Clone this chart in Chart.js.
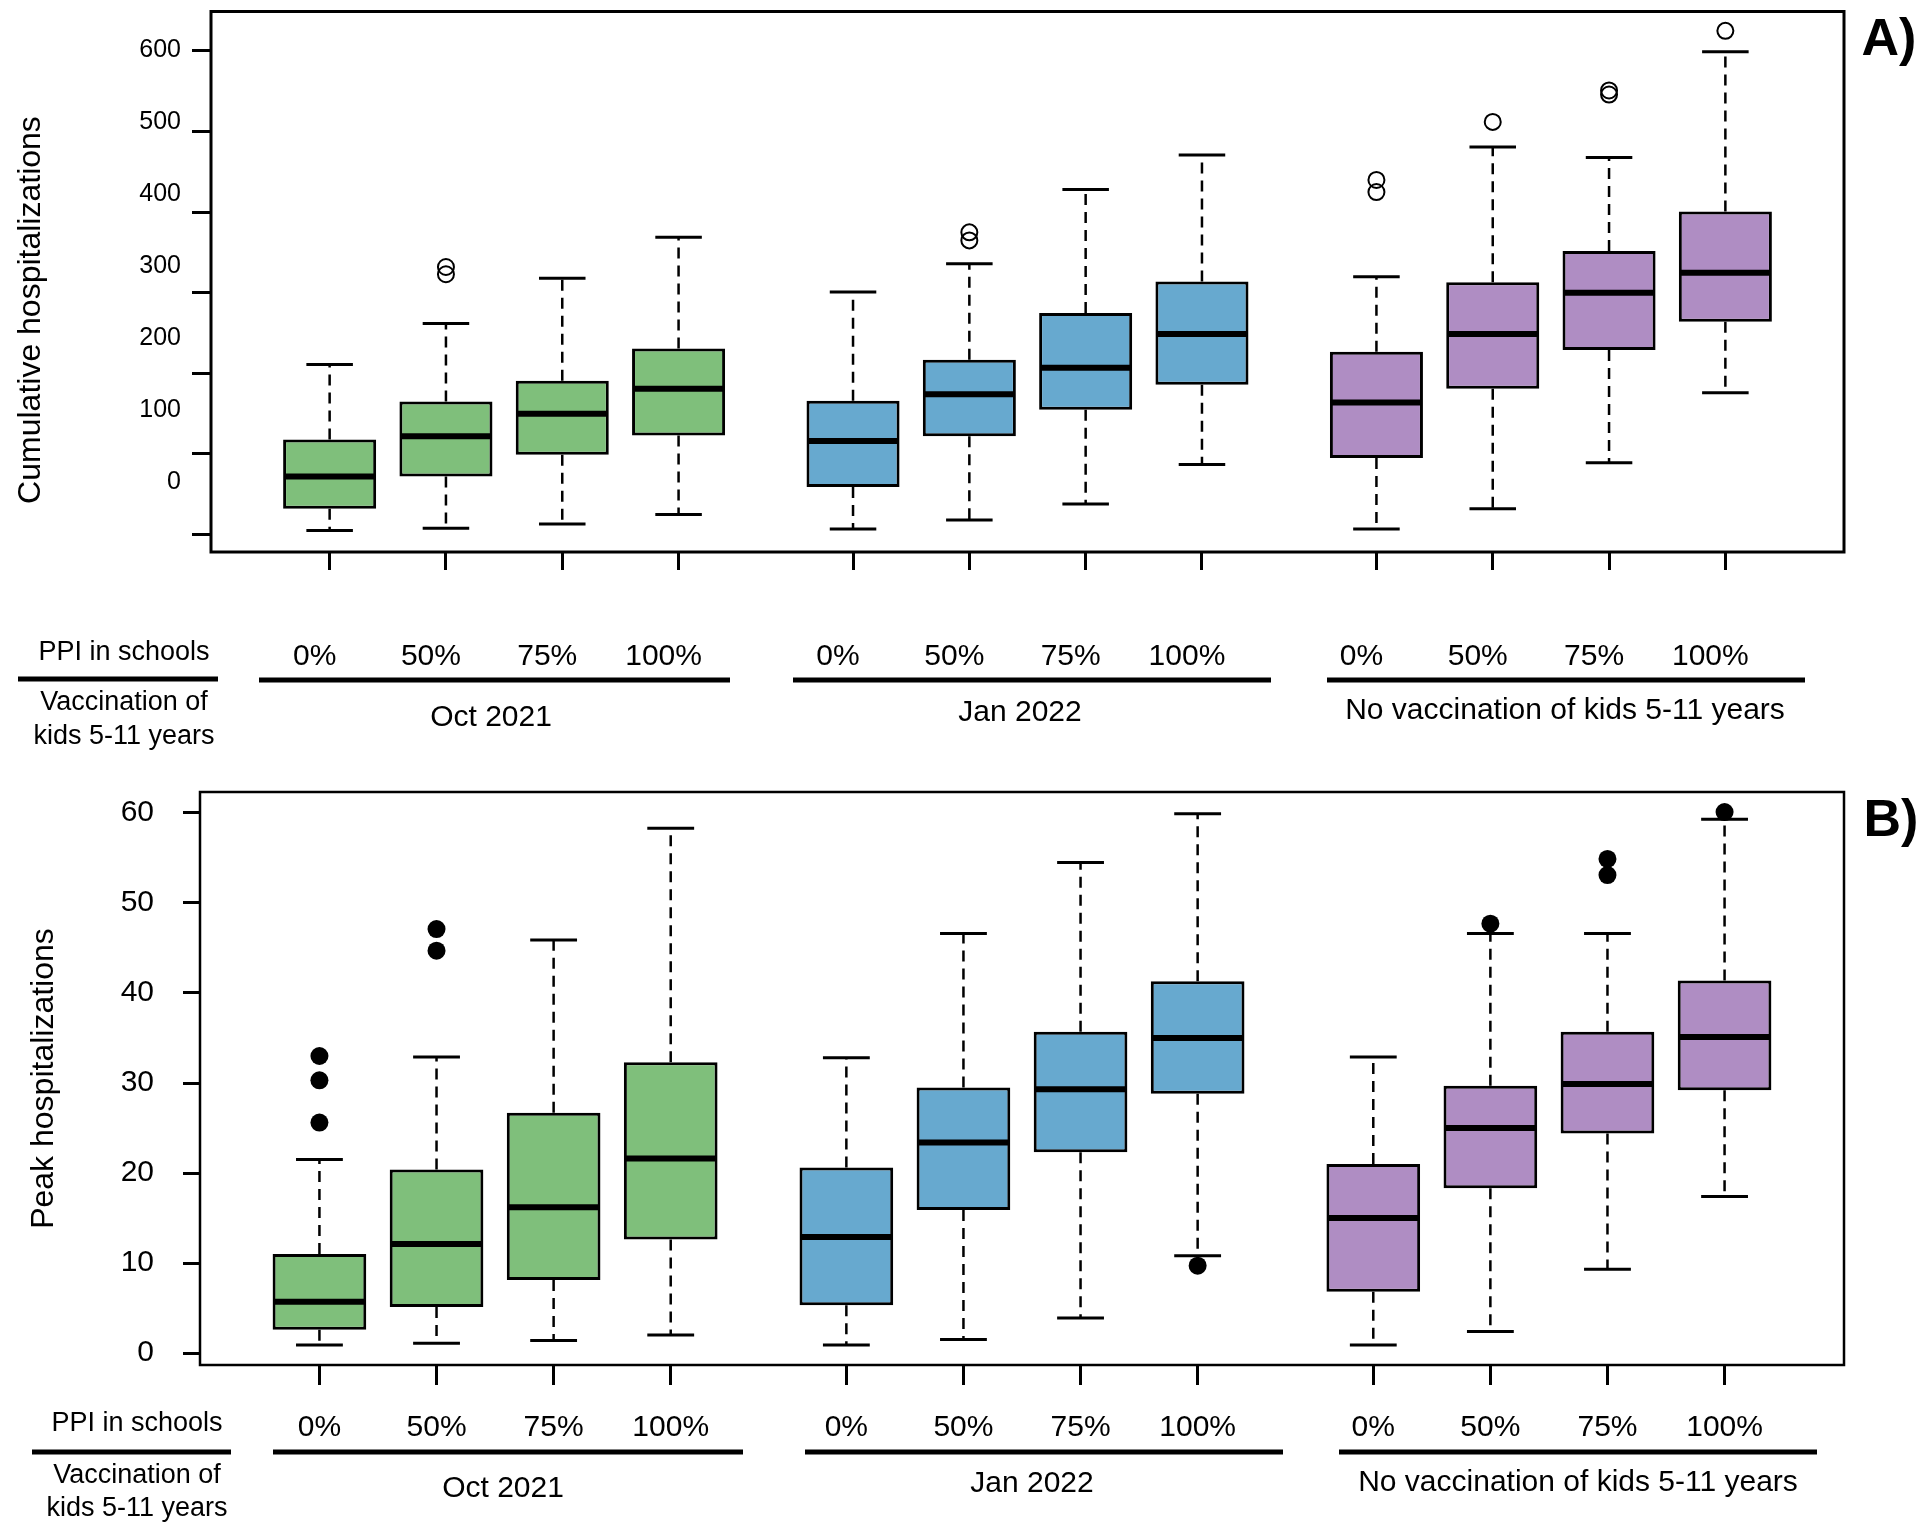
<!DOCTYPE html>
<html>
<head>
<meta charset="utf-8">
<script src="https://cdn.jsdelivr.net/npm/chart.js@4.4.1/dist/chart.umd.min.js"></script>
<style>
  body { margin: 0; background: #fff; }
  .panel { position: absolute; left: 0; width: 1925px; }
  #wrapA { top: 0; height: 770px; }
  #wrapB { top: 770px; height: 762px; }
</style>
</head>
<body>
<div class="panel" id="wrapA"><canvas id="chartA" width="1925" height="770"></canvas></div>
<div class="panel" id="wrapB"><canvas id="chartB" width="1925" height="762"></canvas></div>
<script>
// categories
const ppiLabels = ["0%", "50%", "75%", "100%"];
const vaccGroups = ["Oct 2021", "Jan 2022", "No vaccination of kids 5-11 years"];
const groupColors = ["#7fbf7b", "#67a9cf", "#af8dc3"];
// box positions on the x axis (4 boxes per group, gap between groups)
const boxPos = [1, 2, 3, 4, 5.5, 6.5, 7.5, 8.5, 10, 11, 12, 13];

// A) cumulative hospitalizations
const cumTicks = [0, 100, 200, 300, 400, 500, 600];
const cumLow = [5, 8, 13, 25, 7, 18, 38, 87, 7, 32, 89, 176];
const cumQ1 = [32, 72, 99, 123, 59, 122, 155, 186, 95, 181, 229, 264];
const cumMedian = [72, 122, 150, 181, 116, 174, 207, 249, 164, 249, 300, 325];
const cumQ3 = [118, 165, 191, 231, 166, 217, 275, 314, 227, 313, 352, 401];
const cumHigh = [211, 262, 318, 369, 301, 336, 428, 471, 320, 481, 468, 599];
const cumOutliers = [[], [332, 323], [], [], [], [375, 365], [], [], [440, 425], [512], [551, 546], [625]];

// B) peak hospitalizations
const peakTicks = [0, 10, 20, 30, 40, 50, 60];
const peakLow = [0.9, 1.1, 1.4, 2.0, 0.9, 1.5, 3.9, 10.8, 0.9, 2.4, 9.3, 17.4];
const peakQ1 = [2.6, 5.1, 8.1, 12.6, 5.3, 15.9, 22.3, 28.8, 6.8, 18.3, 24.4, 29.2];
const peakMedian = [5.7, 12.1, 16.2, 21.6, 12.9, 23.4, 29.3, 35.0, 15.0, 25.0, 29.9, 35.1];
const peakQ3 = [11.0, 20.4, 26.7, 32.3, 20.6, 29.5, 35.7, 41.3, 21.0, 29.7, 35.7, 41.4];
const peakHigh = [21.5, 32.9, 45.9, 58.3, 32.8, 46.6, 54.5, 59.9, 32.9, 46.6, 46.6, 59.3];
const peakOutliers = [[33.0, 30.3, 25.6], [47.1, 44.7], [], [], [], [], [], [9.7], [], [47.7], [54.9, 53.1], [60.1]];

const FONT = "'Liberation Sans', Arial, Helvetica, sans-serif";
Chart.defaults.font.family = FONT;
Chart.defaults.color = "#000";

function boxData(q1, q3) {
  return boxPos.map((p, i) => ({ x: p, y: [q1[i], q3[i]] }));
}

function boxColors() {
  return boxPos.map((p, i) => groupColors[Math.floor(i / 4)]);
}

function outlierPoints(list) {
  const pts = [];
  list.forEach((vals, i) => vals.forEach(v => pts.push({ x: boxPos[i], y: v })));
  return pts;
}

function fixedTicks(values) {
  return s => { s.ticks = values.map(v => ({ value: v })); };
}

// whiskers + caps under the boxes, median bar on top
const boxPlugin = {
  id: "boxExtras",
  beforeDatasetsDraw(chart, args, opts) {
    const ctx = chart.ctx, xs = chart.scales.x, ys = chart.scales.y;
    ctx.save();
    ctx.strokeStyle = "#000";
    boxPos.forEach((p, i) => {
      const cx = xs.getPixelForValue(p);
      ctx.setLineDash([11, 7]);
      ctx.lineWidth = 2.5;
      ctx.beginPath();
      ctx.moveTo(cx, ys.getPixelForValue(opts.q3[i]));
      ctx.lineTo(cx, ys.getPixelForValue(opts.hi[i]));
      ctx.moveTo(cx, ys.getPixelForValue(opts.q1[i]));
      ctx.lineTo(cx, ys.getPixelForValue(opts.lo[i]));
      ctx.stroke();
      ctx.setLineDash([]);
      ctx.lineWidth = 3;
      const c0 = xs.getPixelForValue(p - 0.2), c1 = xs.getPixelForValue(p + 0.2);
      ctx.beginPath();
      [opts.hi[i], opts.lo[i]].forEach(v => {
        const yy = ys.getPixelForValue(v);
        ctx.moveTo(c0, yy);
        ctx.lineTo(c1, yy);
      });
      ctx.stroke();
    });
    ctx.restore();
  },
  afterDatasetsDraw(chart, args, opts) {
    const ctx = chart.ctx, xs = chart.scales.x, ys = chart.scales.y;
    ctx.save();
    ctx.strokeStyle = "#000";
    ctx.lineWidth = 6;
    boxPos.forEach((p, i) => {
      const yy = ys.getPixelForValue(opts.med[i]);
      ctx.beginPath();
      ctx.moveTo(xs.getPixelForValue(p - 0.4) + 1.5, yy);
      ctx.lineTo(xs.getPixelForValue(p + 0.4) - 1.5, yy);
      ctx.stroke();
    });
    ctx.restore();
  }
};

// frame, axis title, panel letter and the two label rows under the axis
const decorPlugin = {
  id: "decor",
  afterDraw(chart, args, o) {
    const ctx = chart.ctx, a = chart.chartArea;
    ctx.save();
    ctx.strokeStyle = "#000";
    ctx.lineWidth = o.frame;
    ctx.strokeRect(a.left, a.top, a.right - a.left, a.bottom - a.top);

    ctx.fillStyle = "#000";
    ctx.textAlign = "center";
    ctx.textBaseline = "middle";

    ctx.save();
    ctx.translate(o.title.x, o.title.y);
    ctx.rotate(-Math.PI / 2);
    ctx.font = "32px " + FONT;
    ctx.fillText(o.title.text, 0, 0);
    ctx.restore();

    ctx.font = "bold 52px " + FONT;
    ctx.fillText(o.letter.text, o.letter.x, o.letter.y);

    ctx.font = "27px " + FONT;
    ctx.fillText("PPI in schools", o.side.x, o.side.y[0]);
    ctx.fillText("Vaccination of", o.side.x, o.side.y[1]);
    ctx.fillText("kids 5-11 years", o.side.x, o.side.y[2]);

    ctx.font = "30px " + FONT;
    vaccGroups.forEach((g, i) => ctx.fillText(g, o.groupX[i], o.groupY[i]));

    ctx.lineWidth = 5;
    o.lines.forEach(l => {
      ctx.beginPath();
      ctx.moveTo(l[0], l[2]);
      ctx.lineTo(l[1], l[2]);
      ctx.stroke();
    });
    ctx.restore();
  }
};

function xAxis(height, tickLen, pad, labelOffset) {
  return {
    type: "linear",
    min: -0.02,
    max: 14.02,
    offset: false,
    afterBuildTicks: fixedTicks(boxPos),
    afterFit: s => { s.height = height; s.paddingLeft = 0; s.paddingRight = 0; },
    grid: { offset: false, drawOnChartArea: false, tickLength: tickLen, tickWidth: 3, tickColor: "#000" },
    border: { display: false },
    ticks: {
      autoSkip: false,
      maxRotation: 0,
      padding: pad,
      labelOffset: labelOffset,
      font: { size: 30 },
      callback: (v, i) => ppiLabels[i % 4]
    }
  };
}

function boxDatasets(q1, q3, outliers, filled, radius) {
  return [
    {
      type: "bar",
      data: boxData(q1, q3),
      backgroundColor: boxColors(),
      borderColor: "#000",
      borderWidth: 3,
      borderSkipped: false,
      barPercentage: 1,
      categoryPercentage: 0.8,
      order: 2
    },
    {
      type: "scatter",
      data: outlierPoints(outliers),
      pointRadius: radius,
      pointBorderWidth: filled ? 0 : 2,
      pointBackgroundColor: filled ? "#000" : "rgba(0,0,0,0)",
      pointBorderColor: "#000",
      order: 1
    }
  ];
}

// A) Cumulative hospitalizations
new Chart(document.getElementById("chartA"), {
  type: "bar",
  data: { datasets: boxDatasets(cumQ1, cumQ3, cumOutliers, false, 8) },
  options: {
    responsive: false,
    animation: false,
    devicePixelRatio: 1,
    layout: { padding: { top: 11.5, right: 81, bottom: 0, left: 0 } },
    plugins: {
      legend: { display: false },
      tooltip: { enabled: false },
      boxExtras: { lo: cumLow, q1: cumQ1, med: cumMedian, q3: cumQ3, hi: cumHigh },
      decor: {
        frame: 3,
        title: { text: "Cumulative hospitalizations", x: 31, y: 310 },
        letter: { text: "A)", x: 1889, y: 41 },
        side: { x: 124, y: [653, 703, 737] },
        groupX: [491, 1020, 1565],
        groupY: [718, 713, 711],
        lines: [[18, 218, 679], [259, 730, 680], [793, 1271, 680], [1327, 1805, 680]]
      }
    },
    scales: {
      x: xAxis(218, 18, 69, -15),
      y: {
        type: "linear",
        position: "left",
        weight: 0,
        min: -21.6,
        max: 649,
        afterBuildTicks: fixedTicks(cumTicks),
        afterFit: s => { s.width = 19; s.paddingTop = 0; s.paddingBottom = 0; },
        ticks: { display: false },
        grid: { drawOnChartArea: false, tickLength: 19, tickWidth: 3, tickColor: "#000" },
        border: { display: false }
      },
      // tick labels of panel A sit on their own spacing in the original figure
      yLab: {
        type: "linear",
        position: "left",
        weight: 5,
        min: -96.5,
        max: 654.2,
        afterBuildTicks: fixedTicks(cumTicks),
        afterFit: s => { s.width = 192; s.paddingTop = 0; s.paddingBottom = 0; },
        grid: { display: false, drawTicks: false },
        border: { display: false },
        ticks: { padding: 11, font: { size: 25 } }
      }
    }
  },
  plugins: [boxPlugin, decorPlugin]
});

// B) Peak hospitalizations
new Chart(document.getElementById("chartB"), {
  type: "bar",
  data: { datasets: boxDatasets(peakQ1, peakQ3, peakOutliers, true, 9) },
  options: {
    responsive: false,
    animation: false,
    devicePixelRatio: 1,
    layout: { padding: { top: 22, right: 81, bottom: 0, left: 0 } },
    plugins: {
      legend: { display: false },
      tooltip: { enabled: false },
      boxExtras: { lo: peakLow, q1: peakQ1, med: peakMedian, q3: peakQ3, hi: peakHigh },
      decor: {
        frame: 2.5,
        title: { text: "Peak hospitalizations", x: 44, y: 308.5 },
        letter: { text: "B)", x: 1891, y: 52 },
        side: { x: 137, y: [654, 706, 739] },
        groupX: [503, 1032, 1578],
        groupY: [719, 714, 713],
        lines: [[32, 231, 682], [273, 743, 682], [805, 1283, 682], [1339, 1817, 682]]
      }
    },
    scales: {
      x: xAxis(167, 20, 25, 0),
      y: {
        type: "linear",
        position: "left",
        min: -1.33,
        max: 62.33,
        afterBuildTicks: fixedTicks(peakTicks),
        afterFit: s => { s.width = 200; s.paddingTop = 0; s.paddingBottom = 0; },
        grid: { drawOnChartArea: false, tickLength: 17, tickWidth: 3, tickColor: "#000" },
        border: { display: false },
        ticks: { padding: 29, font: { size: 30 } }
      }
    }
  },
  plugins: [boxPlugin, decorPlugin]
});
</script>
</body>
</html>
